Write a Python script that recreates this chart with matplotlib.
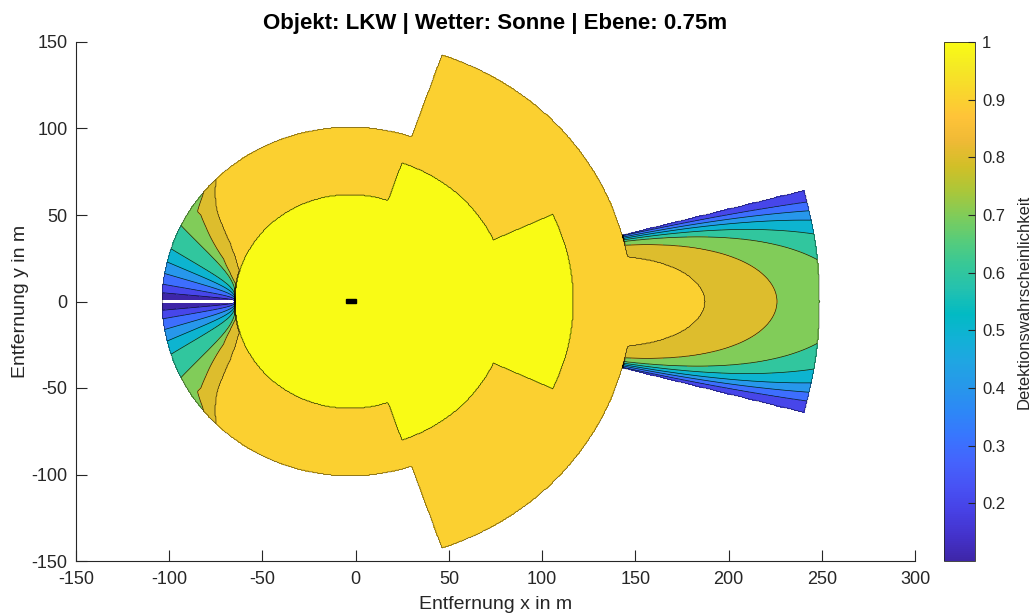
import numpy as np
import matplotlib.pyplot as plt
from matplotlib.colors import LinearSegmentedColormap, Normalize
from matplotlib.cm import ScalarMappable
from matplotlib.patches import Rectangle

plt.rcParams['font.family'] = ['Liberation Sans', 'DejaVu Sans']
plt.rcParams['axes.unicode_minus'] = False

# parula (every third entry of the 64 colour table)
parula_rgb = [
    (0.2422, 0.1504, 0.6603), (0.2647, 0.1978, 0.7952), (0.2783, 0.2559, 0.8991),
    (0.2810, 0.3228, 0.9579), (0.2699, 0.3892, 0.9906), (0.2206, 0.4603, 0.9973),
    (0.1786, 0.5289, 0.9682), (0.1540, 0.5902, 0.9218), (0.1248, 0.6459, 0.8883),
    (0.0689, 0.6948, 0.8394), (0.0067, 0.7312, 0.7660), (0.1408, 0.7584, 0.6842),
    (0.2161, 0.7843, 0.5923), (0.3406, 0.8008, 0.4789), (0.5044, 0.7993, 0.3480),
    (0.6720, 0.7793, 0.2227), (0.8203, 0.7498, 0.1535), (0.9393, 0.7288, 0.2100),
    (0.9970, 0.7659, 0.2199), (0.9786, 0.8386, 0.1766), (0.9597, 0.9135, 0.1423),
    (0.9769, 0.9839, 0.0805)]
parula = LinearSegmentedColormap.from_list('parula', parula_rgb, N=256)

# sensor origin on the truck and coverage zones (m, deg)
sensor_x = -3.0
r_near = 62.0                      # all round, P = 1
r_mid, half_mid = 85.0, 71.0       # front, P = 1
r_front, half_front = 120.0, 25.0  # front, P = 1
r_ring = 101.0                     # all round
r_wide, half_wide = 151.0, 71.0    # front, wide
p_ring = 0.93
r_far, half_far = 252.0, 14.8      # long range beam

# long range beam: each level is bounded by an ellipse in (range, azimuth)
# with its reach on the beam axis (m) and half width at zero range (deg)
beam_levels = [0.9, 0.8, 0.7, 0.6, 0.5, 0.4, 0.3, 0.2]
beam_reach = [190.0, 229.0, 268.0, 306.0, 350.0, 403.0, 498.0, np.inf]
beam_halfwidth = [16.1, 16.6, 16.1, 15.7, 15.5, 15.4, 15.3, 15.0]
p_beam_core = 0.95

# rear zone: angle off the rear axis (deg) where each level is reached
rear_levels = [0.1, 0.2, 0.3, 0.4, 0.5, 0.6, 0.7, 0.8, 0.9]
rear_edge_angle = [0.0, 2.9, 5.7, 9.3, 13.2, 17.7, 26.0]   # levels 0.1-0.7 at r_ring
rear_spread = 0.35
rear_range = [62.0, 66.6, 72.3, 79.7, 88.7, 94.4, 97.0, 99.7, 101.5]
rear_angle_08 = [9.0, 14.5, 20.0, 24.3, 29.2, 32.0, 32.4, 37.4, 39.8]
rear_angle_09 = [17.0, 22.9, 27.7, 32.0, 36.6, 40.2, 42.0, 44.0, 45.0]

truck_x, truck_y, truck_len, truck_wid = -5.4, -0.9, 5.4, 2.5

# grid
step = 0.5
x = np.arange(-150, 300 + step / 2, step)
y = np.arange(-150, 150 + step / 2, step)
X, Y = np.meshgrid(x, y)
R = np.hypot(X - sensor_x, Y)
ath = np.abs(np.degrees(np.arctan2(Y, X - sensor_x)))
phi = 180.0 - ath

P = np.full(X.shape, np.nan)

# ring + wide front sector
P[(R < r_ring) | ((R < r_wide) & (ath < half_wide))] = p_ring

# rear zone: level angles widen with distance from the near zone
rear_mask = (R >= r_near) & (R < r_ring) & (phi < 60)
rr, pp = R[rear_mask], phi[rear_mask]
spread = np.clip((rr - 61.5) / (101.5 - 61.5), 0, 1) ** rear_spread
lev_pos = [a * spread for a in rear_edge_angle]
lev_pos.append(np.interp(rr, rear_range, rear_angle_08))
lev_pos.append(np.interp(rr, rear_range, rear_angle_09))
val = np.full(rr.shape, p_ring)
for j in range(len(rear_levels) - 1):
    a, b = lev_pos[j], lev_pos[j + 1]
    sel = (pp >= a) & (pp < b)
    val[sel] = rear_levels[j] + (rear_levels[j + 1] - rear_levels[j]) * (pp[sel] - a[sel]) / (b[sel] - a[sel])
P[rear_mask] = np.minimum(P[rear_mask], val)

# long range beam
far_mask = (R >= r_wide) & (R <= r_far) & (ath <= half_far)
rb, tb = R[far_mask], ath[far_mask]
E = [(tb / w) ** 2 + (rb / reach) ** 2 for w, reach in zip(beam_halfwidth, beam_reach)]
val = np.full(rb.shape, np.nan)
val[E[0] <= 1] = p_beam_core
for k in range(1, len(beam_levels)):
    sel = np.isnan(val) & (E[k] <= 1)
    f = (1 - E[k][sel]) / (E[k - 1][sel] - E[k][sel])
    val[sel] = beam_levels[k] + (beam_levels[k - 1] - beam_levels[k]) * f
val[np.isnan(val)] = beam_levels[-1]
P[far_mask] = val

# full detection zones
P[(R < r_near) | ((R < r_mid) & (ath < half_mid)) | ((R < r_front) & (ath < half_front))] = 1.0

covered = np.isfinite(P).astype(float)
# seam along the rear axis
P[(np.abs(Y) < 0.6) & (X - sensor_x < -r_near)] = np.nan

levels = [0.1, 0.2, 0.3, 0.4, 0.5, 0.6, 0.7, 0.8, 0.9, 0.999, 1.001]
band_vals = [0.1, 0.2, 0.3, 0.4, 0.5, 0.6, 0.7, 0.8, 0.9, 1.0]
norm = Normalize(0.1, 1.0)
band_colors = [parula(norm(v)) for v in band_vals]

fig = plt.figure(figsize=(10.3, 6.15), dpi=100)
ax = fig.add_axes([76 / 1030, 54 / 615, 839 / 1030, 519 / 615])
ax.contourf(X, Y, P, levels=levels, colors=band_colors)
ax.contour(X, Y, P, levels=levels[1:-1], colors='k', linewidths=0.5, alpha=0.85)
ax.contour(X, Y, covered, levels=[0.99], colors='k', linewidths=0.5, alpha=0.6)
ax.add_patch(Rectangle((truck_x, truck_y), truck_len, truck_wid, color='k', zorder=5))

ax.set_xlim(-150, 300)
ax.set_ylim(-150, 150)
ax.set_xticks(np.arange(-150, 301, 50))
ax.set_yticks(np.arange(-150, 151, 50))
for s in ['top', 'right']:
    ax.spines[s].set_visible(False)
for s in ['left', 'bottom']:
    ax.spines[s].set_color('#262626')
    ax.spines[s].set_linewidth(0.8)
ax.tick_params(direction='in', length=8, width=0.8, color='#262626', labelcolor='#262626', labelsize=13)
ax.tick_params(axis='x', pad=7)
ax.tick_params(axis='y', pad=6)
ax.set_xlabel('Entfernung x in m', fontsize=14, color='#262626', labelpad=6)
ax.set_ylabel('Entfernung y in m', fontsize=14, color='#262626', labelpad=2)
ax.set_title('Objekt: LKW | Wetter: Sonne | Ebene: 0.75m', fontsize=16, fontweight='bold', pad=9)

cax = fig.add_axes([944 / 1030, 54 / 615, 31 / 1030, 519 / 615])
cb = fig.colorbar(ScalarMappable(norm=norm, cmap=parula), cax=cax)
cb.set_ticks([0.2, 0.3, 0.4, 0.5, 0.6, 0.7, 0.8, 0.9, 1.0])
cb.set_ticklabels(['0.2', '0.3', '0.4', '0.5', '0.6', '0.7', '0.8', '0.9', '1'])
cb.outline.set_edgecolor('#262626')
cb.outline.set_linewidth(0.6)
cax.tick_params(direction='in', length=5, width=0.8, color='#262626', labelcolor='#262626', labelsize=12, pad=5)
cb.set_label('Detektionswahrscheinlichkeit', fontsize=12, color='#262626', labelpad=8)

fig.savefig('out.png', dpi=100)
